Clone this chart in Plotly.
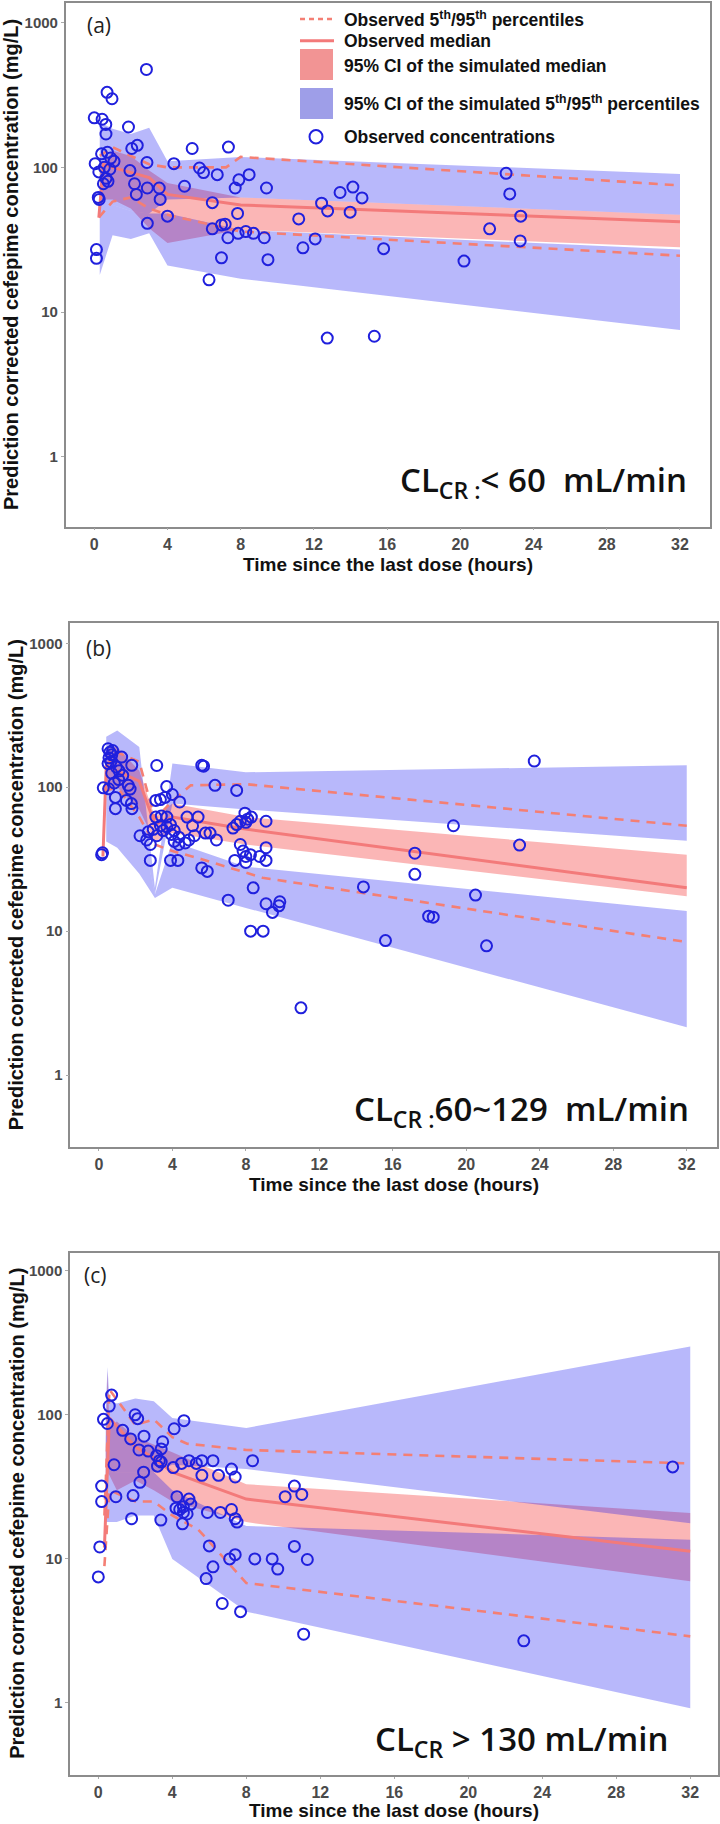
import plotly.graph_objects as go

W, H = 720, 1824

# ======================= DATA =======================
# ---------- Panel (a): CLcr < 60 mL/min ----------
a_sim_t = [0.3, 1.0, 2.0, 3.0, 4.0, 8.0, 32.0]
a_p95_hi = [205, 185, 170, 188, 110, 118, 90]
a_p95_lo = [55, 55, 50, 48, 60, 62, 47]
a_p5_hi = [55, 55, 50, 48, 48, 37, 27]
a_p5_lo = [18, 34, 32, 35, 21, 17, 7.5]
a_med_hi = [100, 130, 120, 95, 78, 62, 47]
a_med_lo = [60, 60, 52, 38, 30, 37, 28]

a_o95_t = [0.3, 1.0, 2.0, 3.0, 4.0, 7.2, 8.0, 32.0]
a_o95 = [120, 138, 120, 105, 100, 100, 118, 75]
a_omed_t = [0.25, 0.5, 1.0, 2.0, 3.0, 4.0, 8.0, 32.0]
a_omed = [45, 105, 100, 92, 85, 65, 55, 42]
a_o5_t = [0.25, 1.0, 2.0, 3.0, 4.0, 6.4, 8.0, 32.0]
a_o5 = [45, 58, 62, 52, 47, 40, 36, 24.5]

a_pts_t = [0.0, 0.43, 0.63, 0.64, 0.7, 0.97, 1.87, 2.05, 2.35, 2.85,
           0.05, 0.25, 0.4, 0.72, 0.9, 1.08, 0.55, 0.85, 0.64, 0.5, 0.75, 0.22, 0.27, 0.12, 0.12,
           1.95, 2.2, 2.3, 2.88, 2.9, 3.55, 3.6, 2.9, 4.0, 4.35, 4.93, 5.35, 5.75, 5.97, 6.72,
           6.45, 6.27, 6.45, 6.95, 7.15, 7.3, 6.95, 7.33, 7.7, 7.83, 7.9, 8.46, 7.86, 8.28, 8.7,
           9.29, 9.41, 9.49, 11.17, 11.4, 12.07, 12.42, 12.75, 13.43, 13.98, 14.13, 14.63, 15.81,
           20.2, 21.6, 22.5, 22.7, 23.3, 23.27, 12.73, 15.3]
a_pts_c = [220, 215, 198, 170, 330, 298, 190, 135, 142, 475,
           106, 93, 124, 127, 116, 110, 100, 97, 84, 77, 80, 62, 60, 27, 23.5,
           95, 77, 65, 108, 72, 72, 60, 41, 46, 106, 74, 135, 99, 92, 89,
           57, 16.7, 37.6, 40, 40.5, 32.6, 23.7, 138, 72, 48, 82, 89, 35, 36, 35,
           32.6, 72, 23, 44, 27.8, 32, 56.5, 50, 67, 49, 73, 61.5, 27.4,
           22.5, 37.6, 91, 65.5, 46, 31, 6.6, 6.8]

# ---------- Panel (b): CLcr 60~129 mL/min ----------
b_sim_t = [0.4, 1.0, 2.2, 3.05, 4.0, 8.0, 32.0]
b_p95_hi = [224, 248, 190, 20, 146, 127, 142]
b_p95_lo = [70, 70, 60, 18, 77, 70, 42.5]
b_p5_hi = [70, 70, 60, 18, 42, 28, 13.8]
b_p5_lo = [42, 38, 25, 17, 20, 14.5, 2.15]
b_med_hi = [190, 190, 130, 62, 77, 62, 34]
b_med_lo = [95, 100, 70, 42, 48, 40, 17.5]

b_o95_t = [0.4, 1.0, 2.2, 3.05, 4.0, 5.0, 8.0, 32.0]
b_o95 = [140, 175, 150, 60, 80, 103, 105, 54]
b_omed_t = [0.22, 0.4, 1.0, 2.2, 3.05, 4.0, 7.6, 32.0]
b_omed = [33, 138, 130, 110, 55, 62, 52, 20]
b_o5_t = [0.4, 1.0, 2.2, 3.05, 4.0, 5.6, 8.9, 32.0]
b_o5 = [95, 100, 62, 40, 36, 31.6, 23.5, 8.4]

b_pts_t = [0.15, 0.2,
           0.6, 0.5, 0.7, 0.55, 0.75, 1.24, 1.79, 0.5, 0.95, 0.65,
           0.24, 0.53, 0.84, 1.08, 1.3, 1.6, 1.7, 0.9, 1.5, 1.77, 0.9, 1.8, 0.7, 1.1,
           3.15, 3.69, 3.1, 3.35, 3.6, 4.0, 4.4, 3.1, 3.4, 3.7, 3.9,
           2.24, 2.69, 2.96, 2.6, 2.8, 3.15, 3.35, 3.5, 3.7, 4.1, 3.95, 4.35, 4.1, 4.35, 4.7, 4.9, 5.2, 5.8,
           2.8, 3.9, 4.3, 4.8, 5.4, 5.1, 6.05, 6.4, 6.32, 5.6, 5.7, 7.5,
           7.3, 7.5, 7.7, 7.95, 8.1, 8.3, 8.0, 9.1,
           7.7, 7.85, 8.0, 8.25, 8.0, 7.4, 5.6, 5.9, 7.04, 8.4, 9.1, 8.75, 9.1, 9.1, 9.45, 9.8, 9.85, 8.26, 8.94,
           23.7, 19.3, 22.9, 17.2, 17.2, 14.4, 20.5, 17.95, 18.2, 15.6, 21.1, 11.0]
b_pts_c = [34, 35,
           175, 185, 168, 160, 180, 162, 142, 146, 138, 150,
           99, 97.5, 107, 113, 121, 103, 97, 85, 81, 77, 71, 71, 125, 130,
           141.6, 101, 81, 82, 85, 89, 79, 62, 63, 62, 55,
           46, 49, 51, 43, 40, 46, 54, 50, 53, 50, 47, 45, 42, 40, 41, 43, 46, 48,
           31, 31, 31, 62, 62, 54, 48, 43, 103, 142, 140, 95,
           52, 55, 58, 66, 60, 62, 57, 58,
           40, 36, 33, 34, 30, 31, 27.5, 26, 16.4, 20, 38, 33, 31, 15.5, 13.5, 15, 16, 10, 10,
           152, 54, 39.6, 34.8, 24.8, 20.3, 17.8, 12.7, 12.5, 8.6, 7.9, 2.93]

# ---------- Panel (c): CLcr > 130 mL/min ----------
c_sim_t = [0.4, 0.5, 0.6, 1.0, 2.0, 3.0, 4.0, 8.0, 32.0]
c_p95_hi = [110, 215, 125, 120, 130, 124, 95, 81, 298]
c_p95_lo = [40, 40, 40, 40, 40, 40, 45, 42, 17.7]
c_p5_hi = [40, 40, 40, 40, 40, 40, 30, 16.9, 13.6]
c_p5_lo = [18, 18, 18, 18, 20, 20, 10, 4.3, 0.92]
c_med_hi = [60, 200, 80, 90, 70, 62, 55, 33, 20.8]
c_med_lo = [35, 40, 38, 30, 35, 30, 25, 18, 7.0]

c_o95_t = [0.33, 0.6, 2.0, 3.0, 4.0, 4.8, 8.0, 32.0]
c_o95 = [20, 150, 85, 93, 70, 63, 57, 46]
c_omed_t = [0.33, 0.6, 2.0, 3.0, 4.0, 8.0, 32.0]
c_omed = [12, 95, 60, 50, 40, 26, 11.3]
c_o5_t = [0.33, 0.6, 2.0, 3.0, 4.0, 5.4, 8.0, 32.0]
c_o5 = [8.9, 30, 25, 25, 20, 16, 6.8, 2.9]

c_pts_t = [0.72, 0.59, 0.28, 0.49, 1.99, 2.13, 0.85, 1.32, 1.75, 2.47, 3.48, 4.1, 4.63,
           2.2, 2.7, 3.15, 3.4, 3.3, 2.45, 3.2, 3.4, 4.05, 4.5, 4.9, 5.3, 5.6, 6.2,
           31.05, 8.34, 10.1, 10.6, 11.0, 7.2, 7.4, 6.5, 5.6, 4.9, 5.0, 4.6, 4.4, 4.6, 4.8, 4.55,
           4.25, 4.2, 5.9, 6.6, 7.2, 7.4, 7.5, 3.38, 1.8, 1.88, 2.25, 0.95, 0.18, 0.18,
           0.08, 0.0, 6.0, 6.2, 5.83, 6.7, 7.69, 7.1, 7.4, 8.46, 9.4, 9.7, 10.6, 11.3, 11.1, 23.0]
c_pts_c = [137, 115, 93, 87, 100, 94, 45, 78, 68, 71, 65, 80, 91,
           57, 56, 52, 58, 48, 40, 44, 47, 43, 46, 48, 46, 48, 48,
           43.5, 48, 27, 32, 28, 42, 37, 38, 38, 26, 24, 23, 22, 21, 20.5, 17.5,
           27, 22.5, 21, 21, 22, 19, 18, 18.6, 19, 27.5, 34, 27, 32, 25,
           12.1, 7.5, 12.3, 8.8, 7.3, 4.9, 4.3, 10, 10.7, 10, 10, 8.5, 12.2, 9.9, 3.0, 2.7]

x_ticks = [0, 4, 8, 12, 16, 20, 24, 28, 32]
y_ticks = [1, 10, 100, 1000]
y_ticklabels = ["1", "10", "100", "1000"]

panel_labels = ["(a)", "(b)", "(c)"]
clcr_labels = ["CL<sub>CR :</sub>&lt; 60&nbsp;&nbsp;mL/min",
               "CL<sub>CR :</sub>60~129&nbsp;&nbsp;mL/min",
               "CL<sub>CR</sub> &gt; 130 mL/min"]
y_title = "Prediction corrected cefepime concentration (mg/L)"
x_title = "Time since the last dose (hours)"
legend_labels = ["Observed 5<sup>th</sup>/95<sup>th</sup> percentiles",
                 "Observed median",
                 "95% CI of the simulated median",
                 "95% CI of the simulated 5<sup>th</sup>/95<sup>th</sup> percentiles",
                 "Observed concentrations"]

# ======================= STYLE / LAYOUT =======================
RED_BAND = "rgba(248,110,110,0.50)"
BLUE_BAND = "rgba(10,10,240,0.29)"
LINE_COL = "#f47f74"
MED_COL = "#f37a7a"
PT_COL = "#2020dd"

def fx(x):
    return x / W

def fy(y):
    return 1 - y / H

# plot-area pixel boxes (left, right, top, bottom) and axis ranges
# xty: (y position, y anchor) of the x-axis title
panels = [
    dict(box=(65.7, 710.0, 3.3, 526.7), xr=[-1.56, 33.64], yr=[-0.484, 3.134],
         data=(a_sim_t, a_p95_hi, a_p95_lo, a_p5_hi, a_p5_lo, a_med_hi, a_med_lo,
               a_o95_t, a_o95, a_omed_t, a_omed, a_o5_t, a_o5, a_pts_t, a_pts_c),
         lab=(99, 25), cl=(689, 482), ytx=11, xty=(564, "middle")),
    dict(box=(70.4, 716.7, 623.3, 1147.3), xr=[-1.55, 33.63], yr=[-0.502, 3.139],
         data=(b_sim_t, b_p95_hi, b_p95_lo, b_p5_hi, b_p5_lo, b_med_hi, b_med_lo,
               b_o95_t, b_o95, b_omed_t, b_omed, b_o5_t, b_o5, b_pts_t, b_pts_c),
         lab=(98.5, 648), cl=(691, 1110), ytx=16, xty=(1184, "middle")),
    dict(box=(70.0, 718.0, 1252.7, 1775.0), xr=[-1.53, 33.5], yr=[-0.5, 3.125],
         data=(c_sim_t, c_p95_hi, c_p95_lo, c_p5_hi, c_p5_lo, c_med_hi, c_med_lo,
               c_o95_t, c_o95, c_omed_t, c_omed, c_o5_t, c_o5, c_pts_t, c_pts_c),
         lab=(95, 1275), cl=(670, 1740), ytx=17, xty=(1823, "bottom")),
]

fig = go.Figure()


def band(t, hi, lo, color, xa, ya):
    return go.Scatter(x=list(t) + list(t)[::-1], y=list(hi) + list(lo)[::-1],
                      fill="toself", fillcolor=color, line=dict(width=0),
                      mode="lines", hoverinfo="skip", showlegend=False,
                      xaxis=xa, yaxis=ya)


annotations = []
shapes = []

for i, p in enumerate(panels):
    n = "" if i == 0 else str(i + 1)
    xa, ya = "x" + n, "y" + n
    (st, p95h, p95l, p5h, p5l, mh, ml, o95t, o95, omt, om, o5t, o5, pt, pc) = p["data"]
    fig.add_trace(band(st, mh, ml, RED_BAND, xa, ya))
    fig.add_trace(band(st, p95h, p95l, BLUE_BAND, xa, ya))
    fig.add_trace(band(st, p5h, p5l, BLUE_BAND, xa, ya))
    for tt, vv in ((o5t, o5), (o95t, o95)):
        fig.add_trace(go.Scatter(x=tt, y=vv, mode="lines", showlegend=False,
                                 line=dict(color=LINE_COL, width=2.6, dash="9px,7px"),
                                 xaxis=xa, yaxis=ya))
    fig.add_trace(go.Scatter(x=omt, y=om, mode="lines", showlegend=False,
                             line=dict(color=MED_COL, width=3),
                             xaxis=xa, yaxis=ya))
    fig.add_trace(go.Scatter(x=pt, y=pc, mode="markers", showlegend=False,
                             marker=dict(symbol="circle-open", size=11, color=PT_COL,
                                         line=dict(width=2, color=PT_COL)),
                             xaxis=xa, yaxis=ya))

    L, R, T, B = p["box"]
    fig.update_layout(**{
        "xaxis" + n: dict(domain=[fx(L), fx(R)], range=p["xr"], tickvals=x_ticks,
                          ticks="outside", ticklen=2, tickcolor="#aaaaaa",
                          showline=True, linecolor="#8c8c8c", linewidth=1.5, mirror=True,
                          showgrid=False, zeroline=False, anchor=ya,
                          tickfont=dict(family="Liberation Sans", size=16,
                                        color="#4a4a4a", weight="bold")),
        "yaxis" + n: dict(domain=[fy(B), fy(T)], type="log", range=p["yr"],
                          tickvals=y_ticks, ticktext=y_ticklabels,
                          ticks="outside", ticklen=3, tickcolor="#aaaaaa",
                          showline=True, linecolor="#8c8c8c", linewidth=1.5, mirror=True,
                          showgrid=False, zeroline=False, anchor=xa,
                          tickfont=dict(family="Liberation Sans", size=15,
                                        color="#4a4a4a", weight="bold")),
    })

    annotations.append(dict(text=panel_labels[i], x=fx(p["lab"][0]), y=fy(p["lab"][1]),
                            xref="paper", yref="paper", showarrow=False,
                            xanchor="center", yanchor="middle",
                            font=dict(family="Open Sans", size=21, color="#222222")))
    annotations.append(dict(text=clcr_labels[i], x=fx(p["cl"][0]), y=fy(p["cl"][1]),
                            xref="paper", yref="paper", showarrow=False,
                            xanchor="right", yanchor="middle",
                            font=dict(family="Open Sans", size=33, color="#111111",
                                      weight=600)))
    annotations.append(dict(text=y_title, textangle=-90, x=fx(p["ytx"]), y=fy((T + B) / 2),
                            xref="paper", yref="paper", showarrow=False,
                            xanchor="center", yanchor="middle",
                            font=dict(family="Liberation Sans", size=20, color="#111111",
                                      weight="bold")))
    annotations.append(dict(text=x_title, x=fx((L + R) / 2), y=fy(p["xty"][0]),
                            xref="paper", yref="paper", showarrow=False,
                            xanchor="center", yanchor=p["xty"][1],
                            font=dict(family="Liberation Sans", size=19, color="#111111",
                                      weight="bold")))

# ---------- manual legend in panel (a) ----------
leg_x0, leg_x1, leg_tx = 300, 333, 342
leg_rows = [19, 40.7, 65.7, 103, 137]
shapes.append(dict(type="line", xref="paper", yref="paper",
                   x0=fx(leg_x0), x1=fx(leg_x1), y0=fy(leg_rows[0]), y1=fy(leg_rows[0]),
                   line=dict(color=LINE_COL, width=2.6, dash="5px,4px")))
shapes.append(dict(type="line", xref="paper", yref="paper",
                   x0=fx(leg_x0), x1=fx(leg_x1 + 1), y0=fy(leg_rows[1]), y1=fy(leg_rows[1]),
                   line=dict(color=MED_COL, width=3)))
shapes.append(dict(type="rect", xref="paper", yref="paper",
                   x0=fx(leg_x0), x1=fx(leg_x1), y0=fy(80), y1=fy(49),
                   fillcolor="#f29494", line=dict(width=0)))
shapes.append(dict(type="rect", xref="paper", yref="paper",
                   x0=fx(leg_x0), x1=fx(leg_x1), y0=fy(119), y1=fy(88),
                   fillcolor="#9e9ee8", line=dict(width=0)))
shapes.append(dict(type="circle", xref="paper", yref="paper",
                   x0=fx(309.5), x1=fx(322.5), y0=fy(143.5), y1=fy(130),
                   line=dict(color=PT_COL, width=2)))
for lbl, yy in zip(legend_labels, leg_rows):
    annotations.append(dict(text=lbl, x=fx(leg_tx), y=fy(yy), xref="paper", yref="paper",
                            showarrow=False, xanchor="left", yanchor="middle",
                            font=dict(family="Liberation Sans", size=17.5, color="#111111",
                                      weight="bold")))

fig.update_layout(width=W, height=H, autosize=False,
                  margin=dict(l=0, r=0, t=0, b=0),
                  paper_bgcolor="white", plot_bgcolor="white",
                  showlegend=False, annotations=annotations, shapes=shapes)

fig.write_html("out.html",
               config={"displayModeBar": False},
               post_script="document.body.style.margin='0px';"
                           "document.body.style.overflow='hidden';")
